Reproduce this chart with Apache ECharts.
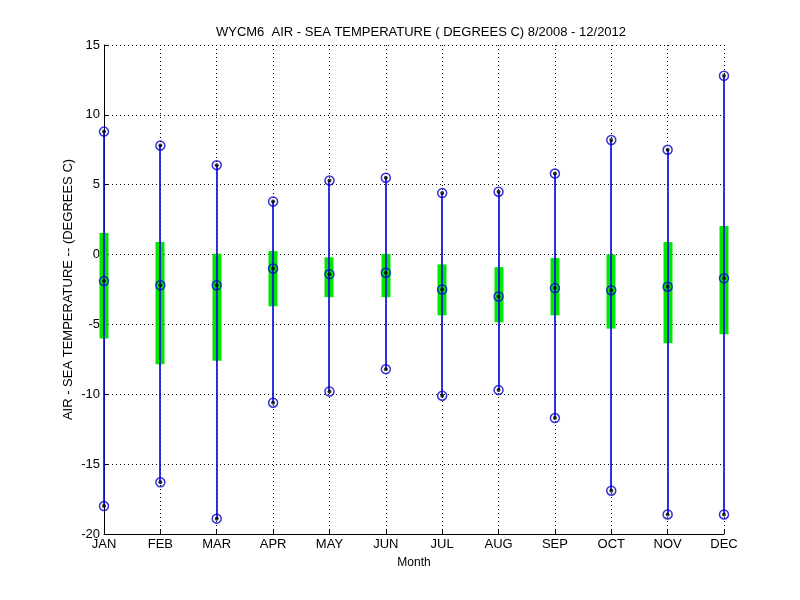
<!DOCTYPE html>
<html>
<head>
<meta charset="utf-8">
<script src="https://cdn.jsdelivr.net/npm/echarts@6/dist/echarts.min.js"></script>
<style>
  html, body { margin: 0; padding: 0; background: #fff; }
  #main { width: 800px; height: 600px; }
</style>
</head>
<body>
<div id="main"></div>
<script>
// monthly air - sea temperature difference
var months = ['JAN', 'FEB', 'MAR', 'APR', 'MAY', 'JUN', 'JUL', 'AUG', 'SEP', 'OCT', 'NOV', 'DEC'];
var maxVals = [8.8, 7.8, 6.4, 3.8, 5.3, 5.5, 4.4, 4.5, 5.8, 8.2, 7.5, 12.8];
var q3Vals = [1.55, 0.9, 0.05, 0.25, -0.2, 0.05, -0.7, -0.9, -0.25, 0.0, 0.9, 2.05];
var medVals = [-1.9, -2.2, -2.2, -1.0, -1.4, -1.3, -2.5, -3.0, -2.4, -2.55, -2.3, -1.7];
var q1Vals = [-6.0, -7.85, -7.6, -3.7, -3.05, -3.05, -4.35, -4.85, -4.35, -5.3, -6.35, -5.7];
var minVals = [-18.0, -16.3, -18.9, -10.6, -9.8, -8.2, -10.1, -9.7, -11.7, -16.9, -18.6, -18.6];
var yTicks = { min: -20, max: 15, step: 5 };

var font = 'Liberation Sans, Arial, sans-serif';

var boxData = [];
for (var i = 0; i < months.length; i++) {
  boxData.push([i, minVals[i], q1Vals[i], q3Vals[i], maxVals[i]]);
}

// circle markers at max, median, min
function markerData() {
  var d = [];
  for (var i = 0; i < months.length; i++) {
    d.push([i, maxVals[i]]);
    d.push([i, medVals[i]]);
    d.push([i, minVals[i]]);
  }
  return d;
}

function renderBox(params, api) {
  var x = api.value(0);
  var pMin = api.coord([x, api.value(1)]);
  var pQ1 = api.coord([x, api.value(2)]);
  var pQ3 = api.coord([x, api.value(3)]);
  var pMax = api.coord([x, api.value(4)]);
  var cx = Math.round(pMin[0]);
  var w = 9;
  return {
    type: 'group',
    children: [{
      type: 'rect',
      shape: { x: cx - 4.5, y: pQ3[1], width: w, height: pQ1[1] - pQ3[1] },
      style: { fill: '#00e800' }
    }, {
      type: 'line',
      shape: { x1: cx, y1: pMax[1], x2: cx, y2: pMin[1] },
      style: { stroke: '#1010e0', lineWidth: 1.7 }
    }]
  };
}

var myChart = echarts.init(document.getElementById('main'));
var option = {
  backgroundColor: '#fff',
  animation: false,
  title: {
    text: 'WYCM6  AIR - SEA TEMPERATURE ( DEGREES C) 8/2008 - 12/2012',
    left: 416,
    top: 21,
    textAlign: 'center',
    textStyle: { fontFamily: font, fontSize: 13, fontWeight: 'normal', color: '#000' }
  },
  grid: { left: 104, right: 76, top: 45, bottom: 66 },
  xAxis: {
    type: 'category',
    data: months,
    boundaryGap: false,
    name: 'Month',
    nameLocation: 'middle',
    nameGap: 23,
    nameTextStyle: { fontFamily: font, fontSize: 12, color: '#000' },
    axisLine: { onZero: false, lineStyle: { color: '#000', width: 1 } },
    axisTick: { inside: true, length: 5, lineStyle: { color: '#000' } },
    axisLabel: { fontFamily: font, fontSize: 13, color: '#000', margin: 4, interval: 0 },
    splitLine: { show: true, lineStyle: { color: '#000', type: [1, 3], width: 1 } }
  },
  yAxis: {
    type: 'value',
    min: yTicks.min,
    max: yTicks.max,
    interval: yTicks.step,
    name: 'AIR - SEA TEMPERATURE -- (DEGREES C)',
    nameLocation: 'middle',
    nameGap: 29,
    nameMoveOverlap: false,
    nameTextStyle: { fontFamily: font, fontSize: 13, color: '#000' },
    axisLine: { show: true, lineStyle: { color: '#000', width: 1 } },
    axisTick: { show: true, inside: true, length: 5, lineStyle: { color: '#000' } },
    axisLabel: { fontFamily: font, fontSize: 13, color: '#000', margin: 4 },
    splitLine: { show: true, lineStyle: { color: '#000', type: [1, 3], width: 1 } }
  },
  series: [{
    type: 'custom',
    renderItem: renderBox,
    data: boxData,
    encode: { x: 0, y: [1, 2, 3, 4] },
    z: 2
  }, {
    type: 'scatter',
    data: markerData(),
    symbol: 'circle',
    symbolSize: 9,
    itemStyle: { color: 'rgba(0,0,0,0)', borderColor: '#0000cc', borderWidth: 1.5 },
    z: 3
  }, {
    type: 'scatter',
    data: markerData(),
    symbol: 'circle',
    symbolSize: 4,
    itemStyle: { color: '#000' },
    z: 4
  }]
};
myChart.setOption(option);
</script>
</body>
</html>
